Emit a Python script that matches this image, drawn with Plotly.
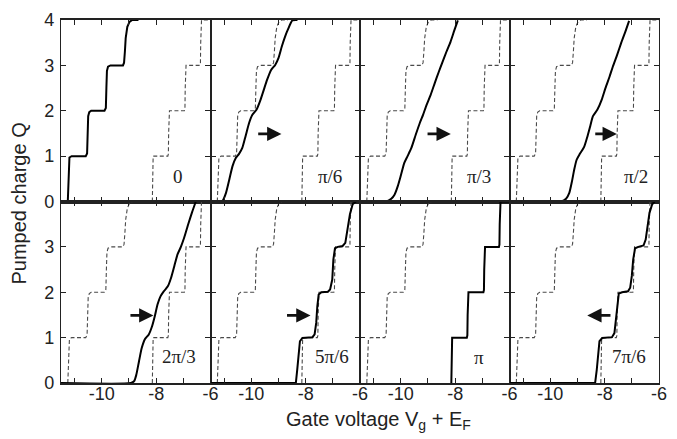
import plotly.graph_objects as go
from plotly.subplots import make_subplots

# ---------------- data ----------------
X_RANGE = [-11.5, -6.0]
Y_RANGE = [0, 4]
X_TICKS = [-11, -10, -9, -8, -7, -6]
X_TICKTEXT = ["", "-10", "", "-8", "", "-6"]
Y_TICKS = [0, 1, 2, 3, 4]
Y_TICKTEXT_TOP = ["0", "1", "2", "3", "4"]
Y_TICKTEXT_BOTTOM = ["0", "1", "2", "3", ""]

PHASE_LABELS = ["0", "π/6", "π/3", "π/2", "2π/3", "5π/6", "π", "7π/6"]
LABEL_X = [-7.18, -7.10, -7.12, -6.86, -7.17, -7.03, -7.11, -7.12]
LABEL_Y = [0.56, 0.56, 0.56, 0.56, 0.59, 0.59, 0.57, 0.59]

# phase 0 curve
q0_x = [-11.25, -11.23, -11.22, -11.19, -11.11, -10.59, -10.54, -10.52, -10.50, -10.46, -10.39,
        -9.90, -9.85, -9.83, -9.81, -9.77, -9.68, -9.22, -9.18, -9.15, -9.12, -9.06, -8.98, -8.88, -8.65]
q0_y = [0, 0.5, 0.85, 0.97, 1.0, 1.0, 1.06, 1.5, 1.88, 1.97, 2.0,
        2.0, 2.06, 2.5, 2.88, 2.97, 3.0, 3.0, 3.06, 3.3, 3.6, 3.85, 3.96, 4.0, 4.0]

# phase pi curve
qpi_x = [-8.14, -8.135, -8.13, -8.11, -7.57, -7.55, -7.54, -7.53, -7.51, -6.96, -6.94, -6.93,
         -6.92, -6.90, -6.39, -6.37, -6.36, -6.35, -6.33, -6.0]
qpi_y = [0, 0.5, 0.95, 1, 1, 1.05, 1.5, 1.95, 2, 2, 2.05, 2.5,
         2.95, 3, 3, 3.05, 3.5, 3.92, 4, 4]

# pi/6
p6_x = [-11.5, -11.10, -11.05, -10.93, -10.81, -10.69, -10.57, -10.45, -10.33, -10.21, -10.08, -9.96,
        -9.81, -9.66, -9.54, -9.42, -9.27, -9.12, -9.00, -8.88, -8.76, -8.63, -8.49, -8.30]
p6_y = [0, 0, 0.02, 0.19, 0.48, 0.78, 0.96, 1.05, 1.18, 1.44, 1.73, 1.91,
        2.02, 2.24, 2.46, 2.68, 2.90, 3.01, 3.16, 3.41, 3.63, 3.82, 3.99, 4.0]

# pi/3
p3_x = [-11.5, -10.53, -10.35, -10.23, -10.11, -9.99, -9.87, -9.75, -9.61, -9.45, -9.30, -9.18,
        -9.05, -8.90, -8.75, -8.60, -8.48, -8.32, -8.17, -8.03, -7.90]
p3_y = [0, 0, 0.06, 0.15, 0.34, 0.59, 0.85, 1.0, 1.18, 1.47, 1.73, 1.91,
        2.13, 2.35, 2.61, 2.86, 3.05, 3.30, 3.52, 3.77, 3.99]

# pi/2
p2_x = [-11.5, -9.60, -9.42, -9.30, -9.20, -9.12, -9.03, -8.91, -8.75, -8.63, -8.53, -8.43,
        -8.27, -8.11, -7.97, -7.82, -7.70, -7.54, -7.40, -7.24, -7.10]
p2_y = [0, 0, 0.06, 0.19, 0.45, 0.70, 0.92, 1.05, 1.21, 1.44, 1.66, 1.88,
        2.02, 2.24, 2.50, 2.75, 2.97, 3.23, 3.48, 3.74, 3.98]

# 2pi/3
p23_x = [-11.5, -8.93, -8.81, -8.73, -8.63, -8.53, -8.41, -8.27, -8.15, -8.05, -7.95, -7.84,
         -7.72, -7.57, -7.45, -7.33, -7.21, -7.09, -6.97, -6.82, -6.68, -6.54]
p23_y = [0, 0, 0.04, 0.18, 0.48, 0.77, 0.97, 1.07, 1.25, 1.47, 1.73, 1.91,
         2.02, 2.13, 2.32, 2.58, 2.84, 3.0, 3.20, 3.50, 3.76, 4.0]

# 5pi/6
p56_x = [-11.5, -8.36, -8.31, -8.26, -8.21, -8.12, -7.75, -7.67, -7.61, -7.57, -7.52, -7.42,
         -7.18, -7.10, -7.02, -6.98, -6.92, -6.82, -6.64, -6.54, -6.45, -6.37, -6.27, -6.15]
p56_y = [0, 0, 0.29, 0.66, 0.92, 0.99, 1.01, 1.07, 1.33, 1.69, 1.95, 2.0,
         2.01, 2.06, 2.28, 2.72, 2.97, 3.0, 3.02, 3.09, 3.39, 3.72, 3.94, 4.0]

# 7pi/6
p76_x = [-11.5, -8.35, -8.29, -8.23, -8.19, -8.09, -7.73, -7.64, -7.58, -7.54, -7.48, -7.36,
         -7.14, -7.06, -7.00, -6.95, -6.88, -6.76, -6.57, -6.49, -6.42, -6.35, -6.25, -6.16]
p76_y = [0, 0, 0.29, 0.66, 0.92, 0.99, 1.01, 1.10, 1.40, 1.73, 1.97, 2.0,
         2.02, 2.10, 2.36, 2.72, 2.97, 3.0, 3.03, 3.16, 3.46, 3.75, 3.94, 4.0]

# arrows (tail -> tip), None where no arrow
ARROW_Y = 1.49
ARROW_TAIL = [None, -9.80, -9.07, -8.40, -9.00, -8.74, None, -7.73]
ARROW_TIP = [None, -8.89, -8.16, -7.55, -8.10, -7.82, None, -8.64]

# ---------------- figure ----------------
SOLID = [(q0_x, q0_y), (p6_x, p6_y), (p3_x, p3_y), (p2_x, p2_y),
         (p23_x, p23_y), (p56_x, p56_y), (qpi_x, qpi_y), (p76_x, p76_y)]
SOLID_SHAPE = ["linear", "spline", "spline", "spline", "spline", "linear", "linear", "linear"]
DASHED = [[(qpi_x, qpi_y)]] + [[(q0_x, q0_y), (qpi_x, qpi_y)]] * 5 + [[(q0_x, q0_y)]] + [[(q0_x, q0_y), (qpi_x, qpi_y)]]

fig = make_subplots(rows=2, cols=4, horizontal_spacing=0, vertical_spacing=0)

AX_COLOR = "#222222"
annotations = []
for i in range(8):
    row, col = i // 4 + 1, i % 4 + 1
    for dx, dy in DASHED[i]:
        fig.add_trace(go.Scatter(x=dx, y=dy, mode="lines",
                                 line=dict(color="#4a4a4a", width=1.1, dash="4px,2.5px"),
                                 hoverinfo="skip"), row=row, col=col)
    sx, sy = SOLID[i]
    fig.add_trace(go.Scatter(x=sx, y=sy, mode="lines",
                             line=dict(color="black", width=2, shape=SOLID_SHAPE[i], smoothing=0.6),
                             hoverinfo="skip"), row=row, col=col)
    xr = "x" if i == 0 else f"x{i+1}"
    yr = "y" if i == 0 else f"y{i+1}"
    annotations.append(dict(x=LABEL_X[i], y=LABEL_Y[i], xref=xr, yref=yr, text=PHASE_LABELS[i],
                            showarrow=False, xanchor="center", yanchor="middle",
                            font=dict(family="Liberation Serif, Times New Roman, serif", size=19, color="#222")))
    if ARROW_TAIL[i] is not None:
        annotations.append(dict(x=ARROW_TIP[i], y=ARROW_Y, ax=ARROW_TAIL[i], ay=ARROW_Y,
                                xref=xr, yref=yr, axref=xr, ayref=yr, text="",
                                showarrow=True, arrowhead=2, arrowsize=1.1, arrowwidth=2.6,
                                arrowcolor="#111", standoff=0, startstandoff=0))

    fig.update_xaxes(range=X_RANGE, tickvals=X_TICKS, ticktext=X_TICKTEXT,
                     showticklabels=(row == 2), ticks="inside", ticklen=5, tickwidth=1,
                     tickcolor=AX_COLOR, showline=True, linewidth=1.5, linecolor=AX_COLOR,
                     mirror="ticks", showgrid=False, zeroline=False, ticklabelstandoff=-6,
                     row=row, col=col)
    fig.update_yaxes(range=Y_RANGE, tickvals=Y_TICKS,
                     ticktext=Y_TICKTEXT_TOP if row == 1 else Y_TICKTEXT_BOTTOM,
                     showticklabels=(col == 1), ticks="inside", ticklen=5, tickwidth=1,
                     tickcolor=AX_COLOR, showline=True, linewidth=1.2, linecolor=AX_COLOR,
                     mirror="ticks", showgrid=False, zeroline=False, ticklabelstandoff=2,
                     row=row, col=col)

annotations.append(dict(x=-0.071, y=0.493, xref="paper", yref="paper", text="Pumped charge Q",
                        textangle=-90, showarrow=False, xanchor="center", yanchor="middle",
                        font=dict(size=20, color="#222")))
annotations.append(dict(x=0.5305, y=-0.103, xref="paper", yref="paper",
                        text="Gate voltage V<sub>g</sub> + E<sub>F</sub>",
                        showarrow=False, xanchor="center", yanchor="middle",
                        font=dict(size=20, color="#222")))

fig.update_layout(width=677, height=439, margin=dict(l=61, r=10, t=20, b=56),
                  plot_bgcolor="white", paper_bgcolor="white", showlegend=False,
                  font=dict(family="Liberation Sans, Arial, sans-serif", size=18, color="#222"),
                  annotations=annotations)

fig.write_html("out.html")
